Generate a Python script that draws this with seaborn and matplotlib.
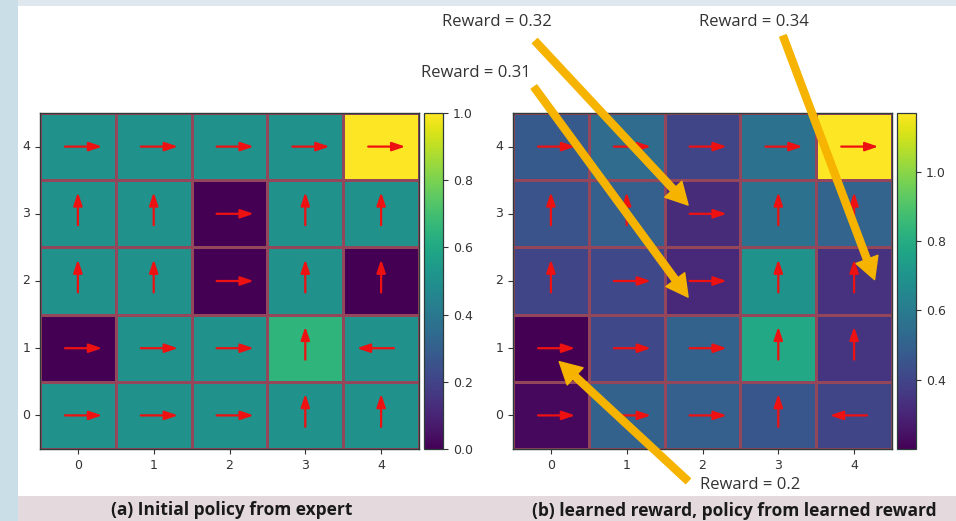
import matplotlib
matplotlib.use("Agg")
import matplotlib.pyplot as plt
from matplotlib.patches import Rectangle
import numpy as np
import seaborn as sns

# Grid rows listed from top (y = 4) to bottom (y = 0)
y_labels = [4, 3, 2, 1, 0]
x_labels = [0, 1, 2, 3, 4]

# (a) expert reward map
reward_expert = [
    [0.50, 0.50, 0.50, 0.50, 1.00],
    [0.50, 0.50, 0.00, 0.50, 0.50],
    [0.50, 0.50, 0.00, 0.50, 0.00],
    [0.00, 0.50, 0.50, 0.65, 0.50],
    [0.50, 0.50, 0.50, 0.50, 0.50],
]
# (b) learned reward map
reward_learned = [
    [0.47, 0.54, 0.40, 0.56, 1.17],
    [0.45, 0.49, 0.32, 0.56, 0.51],
    [0.40, 0.41, 0.31, 0.69, 0.34],
    [0.20, 0.41, 0.50, 0.78, 0.35],
    [0.22, 0.50, 0.49, 0.46, 0.40],
]

# Greedy actions per cell: R = right, L = left, U = up
policy_expert = ["RRRRR", "UURUU", "UURUU", "RRRUL", "RRRUU"]
policy_learned = ["RRRRR", "UURUU", "URRUU", "RRRUU", "RRRUL"]

# Highlighted cells of the learned map: (column, grid y)
highlight_cells = [(2, 3), (2, 2), (4, 2), (0, 1)]

W, H = 956, 521
fig = plt.figure(figsize=(W / 100, H / 100), dpi=100)
fig.patch.set_facecolor("white")


def px_rect(x0, y0, x1, y1, color):
    """Rectangle given in image pixels (origin top-left)."""
    fig.add_artist(Rectangle((x0 / W, 1 - y1 / H), (x1 - x0) / W, (y1 - y0) / H,
                             transform=fig.transFigure, facecolor=color,
                             edgecolor="none", zorder=-5))


# slide-style framing
px_rect(0, 0, W, 6, "#dfe8ee")
px_rect(0, 0, 18, H, "#c9dee6")
px_rect(18, 496, W, H, "#e4dadd")


def axes_px(x0, y0, x1, y1):
    return fig.add_axes([x0 / W, 1 - y1 / H, (x1 - x0) / W, (y1 - y0) / H])


ax_a = axes_px(40, 113, 419, 449)
cax_a = axes_px(424, 113, 443, 449)
ax_b = axes_px(513, 113, 892, 449)
cax_b = axes_px(897, 113, 916, 449)

DIRS = {"R": (1, 0), "L": (-1, 0), "U": (0, -1)}
TICK_COLOR = "#333333"


def draw_panel(ax, cax, values, policy, cbar_ticks=None):
    data = np.array(values)
    sns.heatmap(data, ax=ax, cbar_ax=cax, cmap="viridis",
                linewidths=0.8, linecolor="#94465a",
                xticklabels=x_labels, yticklabels=y_labels)
    for sp in ax.spines.values():
        sp.set_visible(True)
        sp.set_color("#2e3b3b")
        sp.set_linewidth(1.0)
    ax.tick_params(axis="both", labelsize=9, colors=TICK_COLOR, length=3.5)
    ax.set_yticklabels(y_labels, rotation=0)
    ax.set_xticklabels(x_labels, rotation=0)

    # policy arrows
    for r, row in enumerate(policy):
        for c, act in enumerate(row):
            dx, dy = DIRS[act]
            cx, cy = c + 0.5, r + 0.5
            tail = (cx - 0.17 * dx, cy - 0.17 * dy)
            tip = (cx + 0.32 * dx, cy + 0.32 * dy)
            ax.annotate("", xy=tip, xytext=tail,
                        arrowprops=dict(arrowstyle="-|>,head_length=0.65,head_width=0.22",
                                        color="#ee1111", lw=1.6, mutation_scale=12,
                                        shrinkA=0, shrinkB=0))

    cb = ax.collections[0].colorbar
    cb.outline.set_linewidth(0.9)
    cb.outline.set_edgecolor("#2e3b3b")
    if cbar_ticks is not None:
        cb.set_ticks(cbar_ticks)
    cax.tick_params(labelsize=9, colors=TICK_COLOR, length=3.5)


draw_panel(ax_a, cax_a, reward_expert, policy_expert)
draw_panel(ax_b, cax_b, reward_learned, policy_learned,
           cbar_ticks=[0.4, 0.6, 0.8, 1.0])

# Reward call-outs on the learned map
label_pos = [(497, 22), (476, 73), (754, 22), (750, 485)]      # text centre, image px
arrow_start = [(535, 41), (534, 87), (783, 36), (688, 481)]   # tail, image px
tip_offset = [(-0.19, 0.13), (-0.19, -0.24), (0.27, 0.02), (0.11, -0.20)]
ORANGE = "#f6b400"
for (col, gy), (tx, ty), (sx, sy), (ox, oy) in zip(highlight_cells, label_pos,
                                                    arrow_start, tip_offset):
    r = y_labels.index(gy)
    val = reward_learned[r][col]
    fig.text(tx / W, 1 - ty / H, f"Reward = {val:g}", ha="center", va="center",
             fontsize=12, family="Open Sans", color="#333333")
    ax_b.annotate("", xy=(col + 0.5 + ox, r + 0.5 - oy), xycoords="data",
                  xytext=(sx, H - sy), textcoords="figure pixels",
                  arrowprops=dict(arrowstyle="simple,head_length=1.3,head_width=1.4,tail_width=0.42",
                                  color=ORANGE, mutation_scale=12,
                                  shrinkA=0, shrinkB=0),
                  annotation_clip=False)

# captions
fig.text(232 / W, 1 - 510 / H, "(a) Initial policy from expert", ha="center",
         va="center", fontsize=12.5, fontweight="bold", family="Open Sans",
         color="#1a1a1a")
fig.text(734 / W, 1 - 511 / H, "(b) learned reward, policy from learned reward",
         ha="center", va="center", fontsize=12.5, fontweight="bold",
         family="Open Sans", color="#1a1a1a")

fig.savefig("out.png", dpi=100)
